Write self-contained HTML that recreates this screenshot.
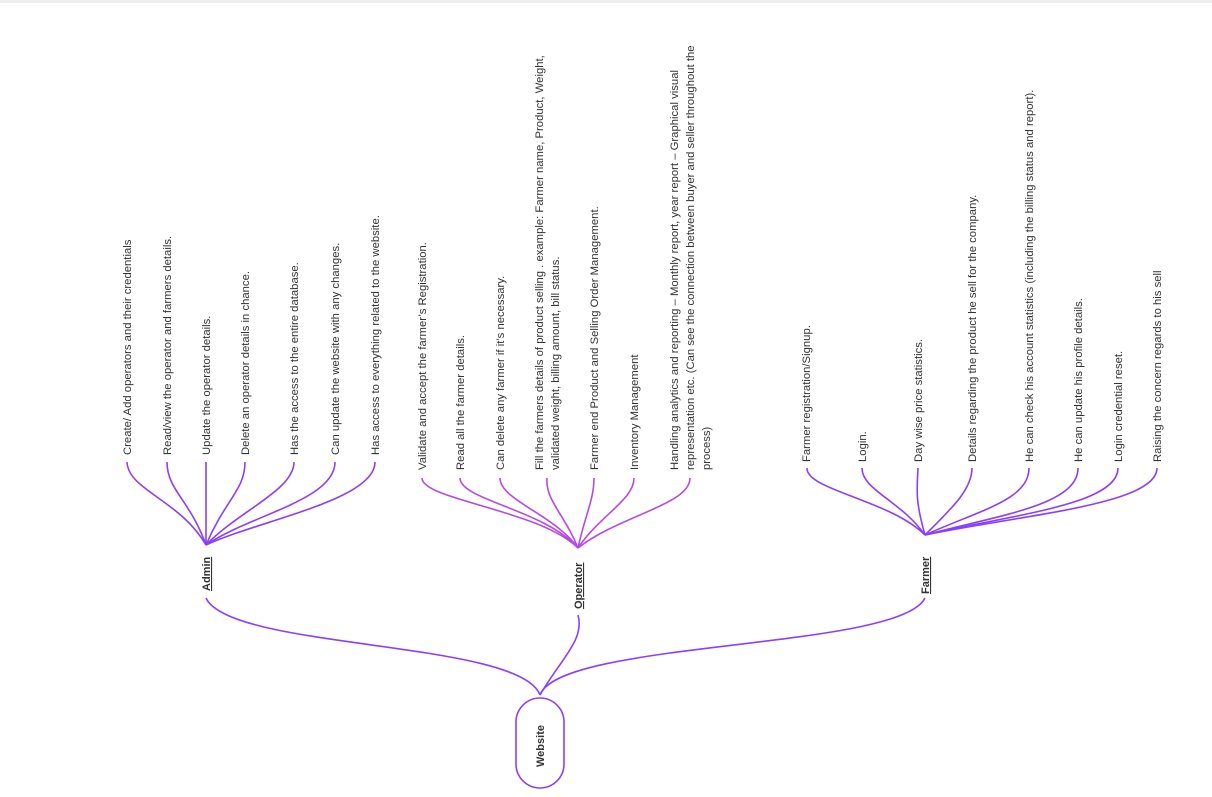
<!DOCTYPE html>
<html><head><meta charset="utf-8"><style>
html,body{margin:0;padding:0;background:#fff;}
svg{display:block;}
text{font-family:"Liberation Sans",sans-serif;fill:#333;font-size:11.3px;}
.b{font-weight:bold;font-size:11px;text-decoration:underline;}
</style></head><body>
<svg width="1212" height="797" viewBox="0 0 1212 797" xmlns="http://www.w3.org/2000/svg">
<rect x="0" y="0" width="1212" height="3" fill="#eee"/>
<g fill="none" stroke="#8a3ffc" stroke-width="1.6">
<path d="M540 695 C520 640 230 650 206 598"/>
<path d="M540 695 C560 660 585 640 578 615"/>
<path d="M540 695 C560 640 900 650 925 598"/>
<path d="M206 545 C180 500 128 490 127 462"/>
<path d="M206 545 C190 500 167 490 167 462"/>
<path d="M206 545 L206 462"/>
<path d="M206 545 C225 500 245 490 245 462"/>
<path d="M206 545 C240 510 294 490 294 462"/>
<path d="M206 545 C250 515 335 500 335 462"/>
<path d="M206 545 C260 520 375 500 375 462"/>
<path d="M925 535 C890 500 806 490 807 468"/>
<path d="M925 535 C900 500 862 490 862 468"/>
<path d="M925 535 C915 500 917 490 918 468"/>
<path d="M925 535 C950 510 972 490 972 468"/>
<path d="M925 535 C980 510 1029 500 1029 468"/>
<path d="M925 535 C1000 515 1078 505 1078 468"/>
<path d="M925 535 C1010 515 1118 505 1118 468"/>
<path d="M925 535 C1020 515 1157 505 1157 468"/>
</g>
<g fill="none" stroke="#b44be6" stroke-width="1.6">
<path d="M578 548 C540 510 422 500 422 478"/>
<path d="M578 548 C545 510 460 500 460 478"/>
<path d="M578 548 C555 515 500 500 500 478"/>
<path d="M578 548 C565 515 545 500 547 478"/>
<path d="M578 548 C585 515 594 500 594 478"/>
<path d="M578 548 C600 515 634 500 634 478"/>
<path d="M578 548 C620 515 690 505 690 478"/>
</g>
<rect x="516" y="698" width="48" height="90" rx="24" fill="#fff" stroke="#8a3ffc" stroke-width="1.6"/>
<text class="b" style="text-decoration:none" transform="translate(544,767) rotate(-90)">Website</text>
<text class="b" transform="translate(210,591) rotate(-90)">Admin</text>
<text class="b" transform="translate(582,609) rotate(-90)">Operator</text>
<text class="b" transform="translate(929,594) rotate(-90)">Farmer</text>
<g>
<text transform="translate(131,455) rotate(-90)">Create/ Add operators and their credentials</text>
<text transform="translate(171,455) rotate(-90)">Read/view the operator and farmers details.</text>
<text transform="translate(210,455) rotate(-90)">Update the operator details.</text>
<text transform="translate(249,455) rotate(-90)">Delete an operator details in chance.</text>
<text transform="translate(298,455) rotate(-90)">Has the access to the entire database.</text>
<text transform="translate(339,455) rotate(-90)">Can update the website with any changes.</text>
<text transform="translate(379,455) rotate(-90)">Has access to everything related to the website.</text>

<text transform="translate(426,470) rotate(-90)">Validate and accept the farmer’s Registration.</text>
<text transform="translate(464,470) rotate(-90)">Read all the farmer details.</text>
<text transform="translate(504,470) rotate(-90)">Can delete any farmer if it’s necessary.</text>
<text transform="translate(543,470) rotate(-90)">Fill the farmers details of product selling . example: Farmer name, Product, Weight,</text>
<text transform="translate(559,470) rotate(-90)">validated weight, billing amount, bill status.</text>
<text transform="translate(598,470) rotate(-90)">Farmer end Product and Selling Order Management.</text>
<text transform="translate(638,470) rotate(-90)">Inventory  Management</text>
<text transform="translate(678,470) rotate(-90)">Handling analytics and reporting – Monthly report, year report – Graphical visual</text>
<text transform="translate(694,470) rotate(-90)">representation etc.  (Can see the connection between buyer and seller throughout the</text>
<text transform="translate(710,470) rotate(-90)">process)</text>

<text transform="translate(810,462) rotate(-90)">Farmer registration/Signup.</text>
<text transform="translate(866,462) rotate(-90)">Login.</text>
<text transform="translate(922,462) rotate(-90)">Day wise price statistics.</text>
<text transform="translate(976,462) rotate(-90)">Details regarding the product he sell for the company.</text>
<text transform="translate(1033,462) rotate(-90)">He can check his account statistics (including the billing status and report).</text>
<text transform="translate(1082,462) rotate(-90)">He can update his profile details.</text>
<text transform="translate(1122,462) rotate(-90)">Login credential reset.</text>
<text transform="translate(1161,462) rotate(-90)">Raising the concern regards to his sell</text>
</g>
</svg>
</body></html>
